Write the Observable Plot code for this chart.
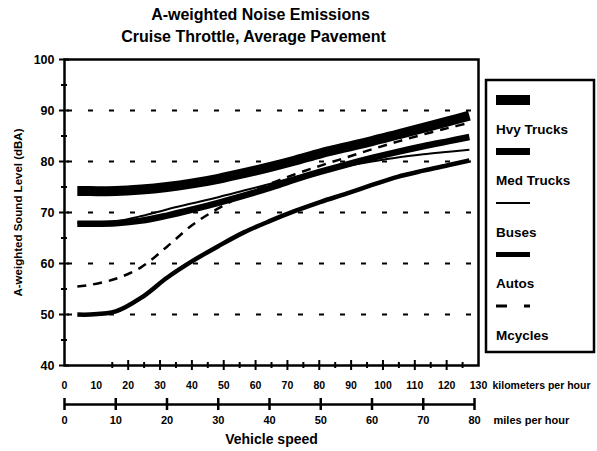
<!DOCTYPE html>
<html>
<head>
<meta charset="utf-8">
<script src="https://cdn.jsdelivr.net/npm/d3@7"></script>
<script src="https://cdn.jsdelivr.net/npm/@observablehq/plot@0.6"></script>
<style>
  html, body { margin: 0; padding: 0; background: white; }
  svg { font-family: "Liberation Sans", Arial, sans-serif; font-weight: bold; }
</style>
</head>
<body>
<div id="chart"></div>
<script>
// ---------- data ----------
const KM_PER_MI = 1.609344;
const titleText = "A-weighted Noise Emissions";
const subtitleText = "Cruise Throttle, Average Pavement";
const yTitle = "A-weighted Sound Level (dBA)";
const xTitle = "Vehicle speed";
const kmUnit = "kilometers per hour";
const mphUnit = "miles per hour";

const speedsMph = [2.5, 5, 10, 15, 20, 25, 30, 35, 40, 45, 50, 55, 60, 65, 70, 75, 79];
const hvyTrucks = [74.2, 74.2, 74.2, 74.5, 75.0, 75.7, 76.6, 77.7, 78.9, 80.2, 81.6, 82.8, 84.0, 85.3, 86.6, 87.9, 89.0];
const medTrucks = [67.8, 67.8, 67.9, 68.4, 69.4, 70.6, 71.9, 73.3, 74.8, 76.5, 78.0, 79.4, 80.7, 81.9, 83.0, 84.0, 84.8];
const buses     = [68.0, 68.0, 68.3, 69.3, 70.6, 71.8, 73.0, 74.3, 75.6, 76.9, 78.1, 79.1, 80.0, 80.8, 81.4, 81.9, 82.3];
const autos     = [50.0, 50.0, 50.6, 53.3, 57.2, 60.5, 63.4, 66.1, 68.3, 70.3, 72.1, 73.7, 75.4, 77.0, 78.2, 79.3, 80.2];
const mcycles   = [55.5, 55.8, 57.0, 59.3, 63.3, 67.6, 70.8, 73.4, 75.6, 77.5, 79.2, 80.8, 82.4, 83.9, 85.3, 86.6, 87.6];

const seriesNames = ["Hvy Trucks", "Med Trucks", "Buses", "Autos", "Mcycles"];
const seriesValues = [hvyTrucks, medTrucks, buses, autos, mcycles];

const yMajorTicks = [40, 50, 60, 70, 80, 90, 100];
const yMinorTicks = [45, 55, 65, 75, 85, 95];
const gridValues = [50, 60, 70, 80, 90];
const kmLabels = [0, 10, 20, 30, 40, 50, 60, 70, 80, 90, 100, 110, 120, 130];
const kmMajorTicks = [20, 30, 40, 50, 60, 70, 80, 90, 100, 110, 120];
const kmMinorTicks = [15, 25, 35, 45, 55, 65, 75, 85, 95, 105, 115, 125];
const mphTicks = [0, 10, 20, 30, 40, 50, 60, 70, 80];

// ---------- styles ----------
const styles = {
  "Hvy Trucks": {w: 10, dash: null, lw: 10, ldash: null},
  "Med Trucks": {w: 6.5, dash: null, lw: 7, ldash: null},
  "Buses":      {w: 2, dash: null, lw: 2, ldash: null},
  "Autos":      {w: 4.5, dash: null, lw: 5, ldash: null},
  "Mcycles":    {w: 2.5, dash: "9,7", lw: 3, ldash: "11,17"}
};

const W = 597, H = 451;
const mL = 64, mR = 119, mT = 59, mB = 86;
const plotW = W - mL - mR, plotH = H - mT - mB;
const mphAxisOffset = 39;

const rows = [];
seriesNames.forEach((name, i) => {
  speedsMph.forEach((s, j) => rows.push({series: name, mph: s, db: seriesValues[i][j]}));
});

const lineMarks = seriesNames.map(name => Plot.line(rows.filter(r => r.series === name), {
  x: "mph", y: "db", stroke: "black",
  strokeWidth: styles[name].w,
  strokeDasharray: styles[name].dash,
  strokeLinecap: "butt",
  curve: "catmull-rom"
}));

const chart = Plot.plot({
  width: W, height: H,
  marginLeft: mL, marginRight: mR, marginTop: mT, marginBottom: mB,
  style: {fontFamily: "Liberation Sans, Arial, sans-serif", fontWeight: "bold", color: "black", background: "white", overflow: "visible"},
  x: {domain: [0, 130 / KM_PER_MI], axis: null},
  y: {domain: [40, 100], axis: null},
  marks: [
    Plot.ruleY(gridValues, {y: d => d, stroke: "black", strokeWidth: 2, strokeDasharray: "5,16", strokeDashoffset: 18}),
    ...lineMarks,
    Plot.frame({stroke: "black", strokeWidth: 2.5}),
    // y ticks
    Plot.tickY(yMajorTicks, {y: d => d, insetLeft: -5, insetRight: plotW - 5, stroke: "black", strokeWidth: 2}),
    Plot.tickY(yMinorTicks, {y: d => d, insetLeft: -3, insetRight: plotW - 3, stroke: "black", strokeWidth: 2}),
    Plot.text(yMajorTicks, {y: d => d, text: d => String(d), frameAnchor: "left", dx: -10, textAnchor: "end", fontSize: 12.5, fontWeight: "bold", fill: "black"}),
    Plot.text([yTitle], {frameAnchor: "left", textAnchor: "middle", lineAnchor: "middle", rotate: -90, dx: -46, fontSize: 11.5, fontWeight: "bold", fill: "black"}),
    // km axis (bottom of frame)
    Plot.tickX(kmMajorTicks, {x: d => d / KM_PER_MI, insetTop: plotH - 5, insetBottom: -5, stroke: "black", strokeWidth: 2}),
    Plot.tickX(kmMinorTicks, {x: d => d / KM_PER_MI, insetTop: plotH - 3, insetBottom: -3, stroke: "black", strokeWidth: 2}),
    Plot.text(kmLabels, {x: d => d / KM_PER_MI, text: d => String(d), frameAnchor: "bottom", lineAnchor: "middle", dy: 20, fontSize: 10.5, fontWeight: "bold", fill: "black"}),
    Plot.text([kmUnit], {frameAnchor: "bottom-right", textAnchor: "start", lineAnchor: "middle", dx: 14, dy: 20, fontSize: 10.5, fontWeight: "bold", fill: "black"}),
    // mph axis
    Plot.ruleY([40], {x1: mphTicks[0], x2: mphTicks[mphTicks.length - 1], dy: mphAxisOffset, stroke: "black", strokeWidth: 2.5}),
    Plot.tickX(mphTicks, {x: d => d, insetTop: plotH + mphAxisOffset - 6, insetBottom: -mphAxisOffset - 6, stroke: "black", strokeWidth: 2.5}),
    Plot.text(mphTicks, {x: d => d, text: d => String(d), frameAnchor: "bottom", lineAnchor: "middle", dy: 55, fontSize: 11, fontWeight: "bold", fill: "black"}),
    Plot.text([mphUnit], {frameAnchor: "bottom-right", textAnchor: "start", lineAnchor: "middle", dx: 15, dy: 55, fontSize: 11, fontWeight: "bold", fill: "black"}),
    Plot.text([xTitle], {frameAnchor: "bottom", lineAnchor: "middle", dy: 74, fontSize: 14, fontWeight: "bold", fill: "black"}),
    // titles
    Plot.text([titleText], {frameAnchor: "top", lineAnchor: "middle", dx: -11, dy: -45, fontSize: 16, fontWeight: "bold", fill: "black"}),
    Plot.text([subtitleText], {frameAnchor: "top", lineAnchor: "middle", dx: -18, dy: -23, fontSize: 16, fontWeight: "bold", fill: "black"})
  ]
});

document.getElementById("chart").appendChild(chart);

// ---------- legend ----------
const svg = d3.select(chart);
const lg = svg.append("g").attr("text-anchor", "start");
const boxX = W - mR + 8, boxY = 80, boxW = 108, boxH = 272;
lg.append("rect").attr("x", boxX).attr("y", boxY).attr("width", boxW).attr("height", boxH)
  .attr("fill", "white").attr("stroke", "black").attr("stroke-width", 2.5);
seriesNames.forEach((name, i) => {
  const y0 = boxY + 20 + i * 51.5;
  const st = styles[name];
  lg.append("line").attr("x1", boxX + 10).attr("x2", boxX + 44).attr("y1", y0).attr("y2", y0)
    .attr("stroke", "black").attr("stroke-width", st.lw)
    .attr("stroke-dasharray", st.ldash);
  lg.append("text").attr("x", boxX + 10).attr("y", y0 + 29)
    .attr("dominant-baseline", "central").attr("text-anchor", "start")
    .attr("font-size", 13.5).attr("font-weight", "bold").attr("fill", "black")
    .text(name);
});
</script>
</body>
</html>
